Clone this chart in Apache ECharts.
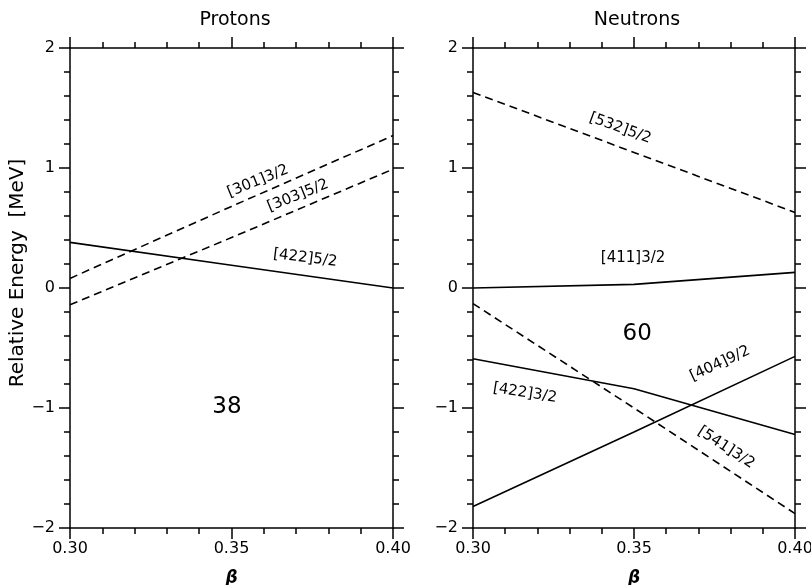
<!DOCTYPE html>
<html><head><meta charset="utf-8">
<script src="https://cdn.jsdelivr.net/npm/echarts@6/dist/echarts.min.js"></script>
<style>html,body{margin:0;padding:0;background:#fff}#c{width:811px;height:585px}</style>
</head><body><div id="c"></div>
<script>
// ---- data ----
const beta = [0.30, 0.35, 0.40];
const p301_32 = [0.08, 0.68, 1.27];
const p303_52 = [-0.14, 0.42, 0.99];
const p422_52 = [0.38, 0.19, 0.0];
const n532_52 = [1.63, 1.13, 0.63];
const n411_32 = [0.0, 0.03, 0.13];
const n541_32 = [-0.13, -1.0, -1.88];
const n422_32 = [-0.59, -0.84, -1.22];
const n404_92 = [-1.82, -1.2, -0.57];
const panelTitles = ['Protons', 'Neutrons'];
const yTicks = [-2, -1, 0, 1, 2];
const xTicks = [0.30, 0.35, 0.40];
// annotations: [beta, energy, text, rotation]
const protonLabels = [
  [0.3582, 0.89, '[301]3/2', 22],
  [0.3706, 0.77, '[303]5/2', 22],
  [0.3728, 0.25, '[422]5/2', -7]
];
const neutronLabels = [
  [0.3457, 1.33, '[532]5/2', -20],
  [0.3497, 0.25, '[411]3/2', 0],
  [0.3161, -0.875, '[422]3/2', -9],
  [0.3767, -0.63, '[404]9/2', 25],
  [0.3786, -1.33, '[541]3/2', -33]
];
const protonNumber = [0.3486, -0.99, '38'];
const neutronNumber = [0.351, -0.38, '60'];

// ---- chart ----
const FONT = 'DejaVu Sans';
const chart = echarts.init(document.getElementById('c'));
const grids = [
  {left: 70, width: 323, top: 48, height: 480, containLabel: false, outerBoundsMode: 'none'},
  {left: 473, width: 322, top: 48, height: 480, containLabel: false, outerBoundsMode: 'none'}
];
const axisLine = {onZero: false, lineStyle: {color: '#000', width: 1.5}};
const fmtX = v => v.toFixed(2);
const fmtY = v => (v < 0 ? '\u2212' + Math.abs(v) : String(v));
function xAx(g, pos, showLabel) {
  return {
    type: 'value', gridIndex: g, position: pos, min: 0.30, max: 0.40, interval: 0.05,
    axisLine, axisTick: {show: true, length: 11, lineStyle: {color: '#000', width: 1.5}},
    minorTick: {show: true, splitNumber: 5, length: 6, lineStyle: {color: '#000', width: 1.5}},
    splitLine: {show: false}, minorSplitLine: {show: false},
    axisLabel: {show: showLabel, formatter: fmtX, color: '#000', fontSize: 16, fontFamily: FONT, margin: 13},
    name: showLabel ? 'β' : '', nameLocation: 'middle', nameGap: 42,
    nameTextStyle: {color: '#000', fontSize: 17, fontWeight: 'bold', fontStyle: 'italic', fontFamily: FONT}
  };
}
function yAx(g, pos, showLabel, name) {
  return {
    type: 'value', gridIndex: g, position: pos, min: -2, max: 2, interval: 1,
    axisLine, axisTick: {show: true, length: 11, lineStyle: {color: '#000', width: 1.5}},
    minorTick: {show: true, splitNumber: 5, length: 6, lineStyle: {color: '#000', width: 1.5}},
    splitLine: {show: false}, minorSplitLine: {show: false},
    axisLabel: {show: showLabel, formatter: fmtY, color: '#000', fontSize: 16, fontFamily: FONT, margin: 15},
    name: name || '', nameLocation: 'middle', nameGap: 34, nameRotate: 90,
    nameTextStyle: {color: '#000', fontSize: 20, fontFamily: FONT, padding: [0, 0, 0, 30]}
  };
}
function lineSeries(xi, yi, vals, dashed) {
  return {
    type: 'line', xAxisIndex: xi, yAxisIndex: yi, symbol: 'none', silent: true,
    data: beta.map((b, i) => [b, vals[i]]),
    lineStyle: {color: '#000', width: 1.6, type: dashed ? [8, 5] : 'solid'}
  };
}
function labelSeries(xi, yi, items, size) {
  return {
    type: 'scatter', xAxisIndex: xi, yAxisIndex: yi, symbolSize: 0, silent: true,
    itemStyle: {opacity: 1},
    data: items.map(it => ({
      value: [it[0], it[1]],
      label: {show: true, position: 'inside', formatter: it[2], rotate: it[3] || 0,
        color: '#000', opacity: 1, fontSize: size, fontFamily: FONT}
    }))
  };
}
chart.setOption({
  animation: false,
  title: [
    {text: panelTitles[0], left: 230, top: 6, textAlign: 'center', textStyle: {fontSize: 19, fontWeight: 'normal', color: '#000', fontFamily: FONT}},
    {text: panelTitles[1], left: 632, top: 6, textAlign: 'center', textStyle: {fontSize: 19, fontWeight: 'normal', color: '#000', fontFamily: FONT}}
  ],
  grid: grids,
  xAxis: [xAx(0, 'bottom', true), xAx(0, 'top', false), xAx(1, 'bottom', true), xAx(1, 'top', false)],
  yAxis: [yAx(0, 'left', true, 'Relative Energy  [MeV]'), yAx(0, 'right', false), yAx(1, 'left', true), yAx(1, 'right', false)],
  series: [
    lineSeries(0, 0, p301_32, true),
    lineSeries(0, 0, p303_52, true),
    lineSeries(0, 0, p422_52, false),
    lineSeries(2, 2, n532_52, true),
    lineSeries(2, 2, n411_32, false),
    lineSeries(2, 2, n541_32, true),
    lineSeries(2, 2, n422_32, false),
    lineSeries(2, 2, n404_92, false),
    labelSeries(0, 0, protonLabels, 15),
    labelSeries(2, 2, neutronLabels, 15),
    labelSeries(0, 0, [protonNumber], 23),
    labelSeries(2, 2, [neutronNumber], 23)
  ]
});
</script></body></html>
